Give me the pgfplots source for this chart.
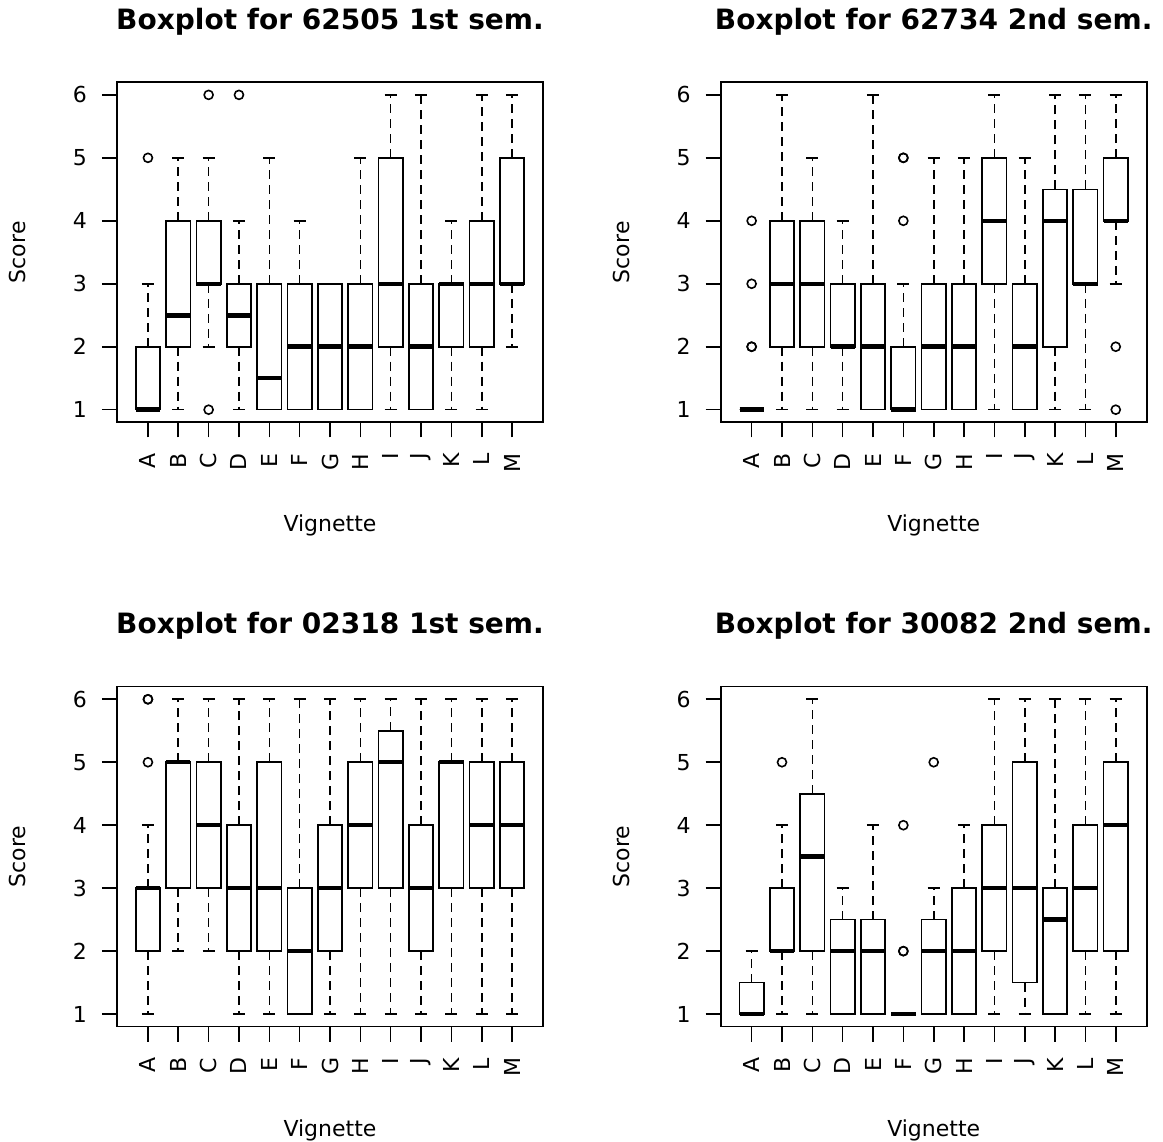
\documentclass[border=0pt]{standalone}
\usepackage{fontspec}
\setmainfont{DejaVu Sans}
\usepackage{pgfplots}
\pgfplotsset{compat=1.18}
\usepgfplotslibrary{statistics}

\pgfplotsset{
  boxplot/draw/whisker/.code 2 args={%
    \draw[/pgfplots/boxplot/every whisker/.try, dash pattern=on 9pt off 6pt] (boxplot cs:#1) -- (boxplot cs:#2);
    \draw[/pgfplots/boxplot/every whisker/.try] (boxplot whisker cs:#2,0) -- (boxplot whisker cs:#2,1);
  },
}
\pgfplotsset{
  rbox/.style={
    scale only axis, width=426pt, height=340pt,
    anchor=south west,
    xmin=-0.02, xmax=14.02, ymin=0.8, ymax=6.2,
    xtick={1,2,3,4,5,6,7,8,9,10,11,12,13},
    xticklabels={A,B,C,D,E,F,G,H,I,J,K,L,M},
    ytick={1,2,3,4,5,6},
    tick align=outside, tick pos=left, major tick length=15pt,
    axis line style={line width=1.6pt},
    every tick/.style={black, line width=1.6pt},
    tick label style={font=\fontsize{22}{26}\selectfont},
    /pgf/number format/assume math mode=true,
    yticklabel style={inner xsep=15pt},
    xticklabel style={rotate=90, anchor=east, inner xsep=16pt},
    title style={font=\fontsize{28}{32}\selectfont\bfseries, at={(axis description cs:0.5,1.139)}, anchor=base},
    every axis x label/.style={font=\fontsize{22}{26}\selectfont, at={(axis description cs:0.5,-0.322)}, anchor=base},
    every axis y label/.style={font=\fontsize{22}{26}\selectfont, at={(axis description cs:-0.2148,0.5)}, rotate=90, anchor=base},
    xlabel={Vignette}, ylabel={Score},
    boxplot/draw direction=y,
    boxplot/box extend=0.8,
    boxplot/whisker extend=0.4,
    boxplot/every box/.style={draw=black, fill=white, line width=1.6pt},
    boxplot/every median/.style={draw=black, line width=4.5pt},
    boxplot/every whisker/.style={draw=black, line width=1.6pt},
    every axis plot/.append style={black, line width=1.6pt, mark=o, mark size=4.5pt},
  },
}

% position, lower whisker, lower quartile, median, upper quartile, upper whisker, outliers
\newcommand{\bx}[7]{%
  \addplot[boxplot prepared={draw position=#1, lower whisker=#2, lower quartile=#3, median=#4, upper quartile=#5, upper whisker=#6}] coordinates {#7};%
}

\begin{document}
\begin{tikzpicture}
\path[use as bounding box] (0pt,0pt) rectangle (1163pt,1142pt);

\begin{axis}[rbox, at={(117pt,719.7pt)}, title={Boxplot for 62505 1st sem.}]
\bx{1}{1}{1}{1}{2}{3}{(0,5)}
\bx{2}{1}{2}{2.5}{4}{5}{}
\bx{3}{2}{3}{3}{4}{5}{(0,6)(0,1)}
\bx{4}{1}{2}{2.5}{3}{4}{(0,6)}
\bx{5}{1}{1}{1.5}{3}{5}{}
\bx{6}{1}{1}{2}{3}{4}{}
\bx{7}{1}{1}{2}{3}{3}{}
\bx{8}{1}{1}{2}{3}{5}{}
\bx{9}{1}{2}{3}{5}{6}{}
\bx{10}{1}{1}{2}{3}{6}{}
\bx{11}{1}{2}{3}{3}{4}{}
\bx{12}{1}{2}{3}{4}{6}{}
\bx{13}{2}{3}{3}{5}{6}{}
\end{axis}

\begin{axis}[rbox, at={(720.7pt,719.7pt)}, title={Boxplot for 62734 2nd sem.}]
\bx{1}{1}{1}{1}{1}{1}{(0,4)(0,3)(0,2)(0,2)}
\bx{2}{1}{2}{3}{4}{6}{}
\bx{3}{1}{2}{3}{4}{5}{}
\bx{4}{1}{2}{2}{3}{4}{}
\bx{5}{1}{1}{2}{3}{6}{}
\bx{6}{1}{1}{1}{2}{3}{(0,4)(0,5)(0,5)}
\bx{7}{1}{1}{2}{3}{5}{}
\bx{8}{1}{1}{2}{3}{5}{}
\bx{9}{1}{3}{4}{5}{6}{}
\bx{10}{1}{1}{2}{3}{5}{}
\bx{11}{1}{2}{4}{4.5}{6}{}
\bx{12}{1}{3}{3}{4.5}{6}{}
\bx{13}{3}{4}{4}{5}{6}{(0,2)(0,1)}
\end{axis}

\begin{axis}[rbox, at={(117pt,115.3pt)}, title={Boxplot for 02318 1st sem.}]
\bx{1}{1}{2}{3}{3}{4}{(0,5)(0,6)(0,6)}
\bx{2}{2}{3}{5}{5}{6}{}
\bx{3}{2}{3}{4}{5}{6}{}
\bx{4}{1}{2}{3}{4}{6}{}
\bx{5}{1}{2}{3}{5}{6}{}
\bx{6}{1}{1}{2}{3}{6}{}
\bx{7}{1}{2}{3}{4}{6}{}
\bx{8}{1}{3}{4}{5}{6}{}
\bx{9}{1}{3}{5}{5.5}{6}{}
\bx{10}{1}{2}{3}{4}{6}{}
\bx{11}{1}{3}{5}{5}{6}{}
\bx{12}{1}{3}{4}{5}{6}{}
\bx{13}{1}{3}{4}{5}{6}{}
\end{axis}

\begin{axis}[rbox, at={(720.7pt,115.3pt)}, title={Boxplot for 30082 2nd sem.}]
\bx{1}{1}{1}{1}{1.5}{2}{}
\bx{2}{1}{2}{2}{3}{4}{(0,5)}
\bx{3}{1}{2}{3.5}{4.5}{6}{}
\bx{4}{1}{1}{2}{2.5}{3}{}
\bx{5}{1}{1}{2}{2.5}{4}{}
\bx{6}{1}{1}{1}{1}{1}{(0,2)(0,2)(0,4)}
\bx{7}{1}{1}{2}{2.5}{3}{(0,5)}
\bx{8}{1}{1}{2}{3}{4}{}
\bx{9}{1}{2}{3}{4}{6}{}
\bx{10}{1}{1.5}{3}{5}{6}{}
\bx{11}{1}{1}{2.5}{3}{6}{}
\bx{12}{1}{2}{3}{4}{6}{}
\bx{13}{1}{2}{4}{5}{6}{}
\end{axis}
\end{tikzpicture}
\end{document}
